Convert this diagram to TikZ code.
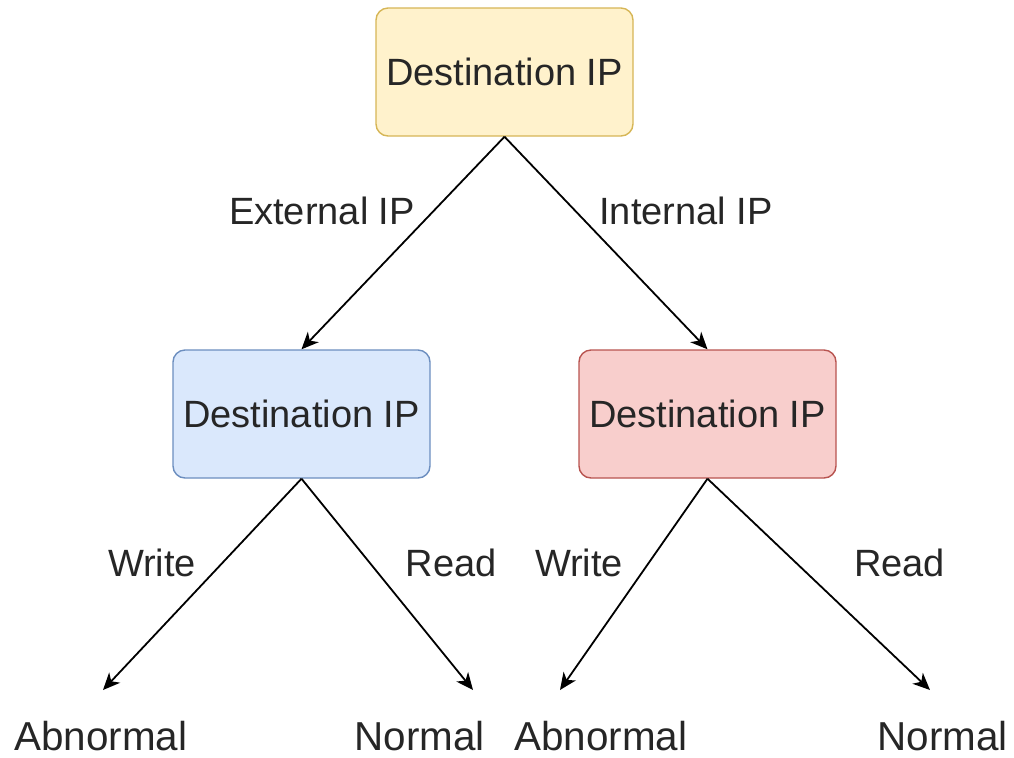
\documentclass[tikz,border=0pt]{standalone}
\usepackage{fontspec}
\setmainfont{Liberation Sans}
\usepackage{xcolor}
\definecolor{rootfill}{HTML}{FFF2CC}
\definecolor{rootline}{HTML}{D6B656}
\definecolor{extfill}{HTML}{DAE8FC}
\definecolor{extline}{HTML}{6C8EBF}
\definecolor{intfill}{HTML}{F8CECC}
\definecolor{intline}{HTML}{B85450}
\usetikzlibrary{arrows.meta,positioning}

\begin{document}
\begin{tikzpicture}[
  x=0.5pt,y=-0.5pt,
  every node/.style={font=\fontsize{19}{22}\selectfont,text=black!85},
  split/.style={rounded corners=6pt,line width=0.7pt,minimum width=128.5pt,minimum height=64pt,inner sep=0pt,align=center},
  leaf/.style={anchor=base,inner sep=0pt,font=\fontsize{20.2}{23}\selectfont},
  edgelabel/.style={inner sep=0pt},
  arrow/.style={-{Stealth[length=8.5pt,width=7.5pt,inset=2.5pt]},line width=0.9pt,draw=black}
]
\useasboundingbox (0,0) rectangle (1014,757);
\node[split,draw=rootline,fill=rootfill] (dst) at (504.5,72) {Destination IP};
\node[split,draw=extline,fill=extfill] (ext) at (301.5,414) {Destination IP};
\node[split,draw=intline,fill=intfill] (int) at (707.5,414) {Destination IP};
% leaves
\node[leaf] (ab1) at (101,750) {Abnormal};
\node[leaf] (no1) at (419.5,750) {Normal};
\node[leaf] (ab2) at (601,750) {Abnormal};
\node[leaf] (no2) at (942.5,750) {Normal};
\coordinate (tab1) at (103,690);
\coordinate (tno1) at (473,690);
\coordinate (tab2) at (560,690);
\coordinate (tno2) at (930,690);
\draw[arrow] (dst.south) -- (ext.north);
\draw[arrow] (dst.south) -- (int.north);
\draw[arrow] (ext.south) -- (tab1);
\draw[arrow] (ext.south) -- (tno1);
\draw[arrow] (int.south) -- (tab2);
\draw[arrow] (int.south) -- (tno2);
% edge labels
\node[edgelabel] (lext) at (322,211) {External IP};
\node[edgelabel] (lint) at (686,211) {Internal IP};
\node[edgelabel] (lw1) at (152,563) {Write};
\node[edgelabel] (lr1) at (451,563) {Read};
\node[edgelabel] (lw2) at (579,563) {Write};
\node[edgelabel] (lr2) at (899.5,563) {Read};
\end{tikzpicture}
\end{document}
